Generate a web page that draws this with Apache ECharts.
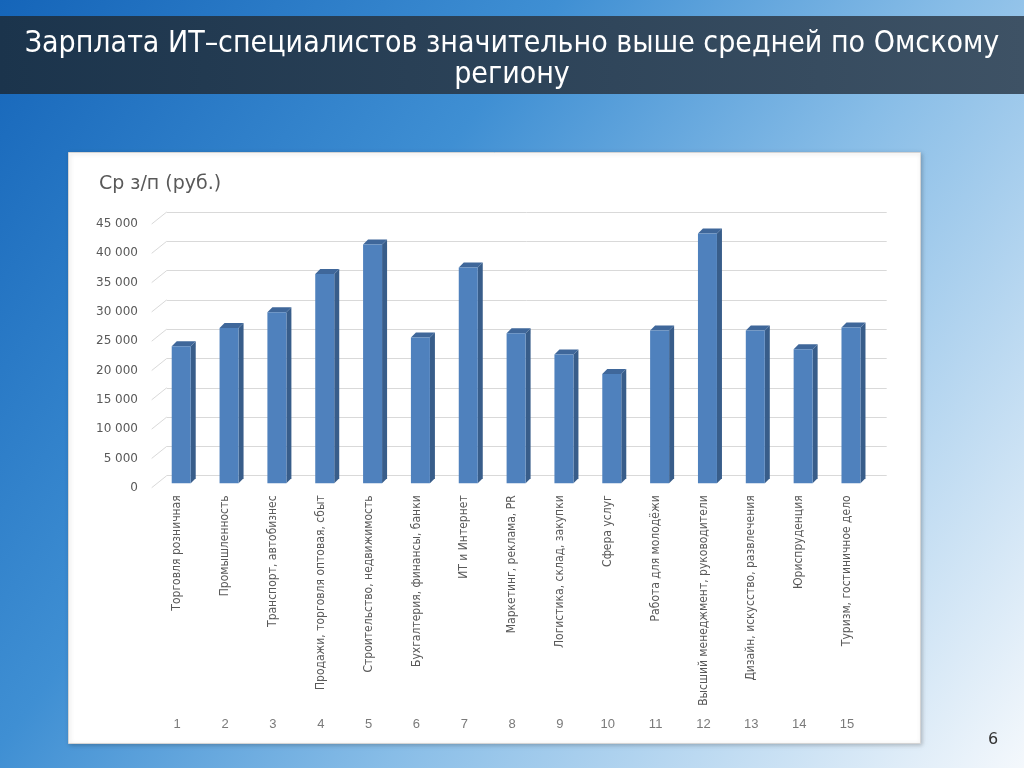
<!DOCTYPE html>
<html>
<head>
<meta charset="utf-8">
<script src="https://cdn.jsdelivr.net/npm/echarts@6/dist/echarts.min.js"></script>
<style>html,body{margin:0;padding:0;}#c{width:1024px;height:768px;}</style>
</head>
<body>
<div id="c"></div>
<script>
const titleLines = ['Зарплата ИТ–специалистов значительно выше средней по Омскому', 'региону'];
const yAxisTitle = 'Ср з/п (руб.)';
const categories = [
  'Торговля розничная',
  'Промышленность',
  'Транспорт, автобизнес',
  'Продажи, торговля оптовая, сбыт',
  'Строительство, недвижимость',
  'Бухгалтерия, финансы, банки',
  'ИТ и Интернет',
  'Маркетинг, реклама, PR',
  'Логистика, склад, закупки',
  'Сфера услуг',
  'Работа для молодёжи',
  'Высший менеджмент, руководители',
  'Дизайн, искусство, развлечения',
  'Юриспруденция',
  'Туризм, гостиничное дело'
];
const categoryNumbers = ['1','2','3','4','5','6','7','8','9','10','11','12','13','14','15'];
const salaries = [23300, 26400, 29100, 35600, 40600, 24800, 36700, 25500, 21900, 18600, 26000, 42500, 26000, 22800, 26500];
const yTicks = [0, 5000, 10000, 15000, 20000, 25000, 30000, 35000, 40000, 45000];
const pageNumber = '6';

const chart = echarts.init(document.getElementById('c'), null, {renderer: 'canvas'});

function fmt(v) {
  return String(v).replace(/\B(?=(\d{3})+(?!\d))/g, ' ');
}

const option = {
  animation: false,
  graphic: [
    {type: 'rect', z: -10, shape: {x: 0, y: 0, width: 1024, height: 768},
     style: {fill: new echarts.graphic.LinearGradient(0, 0, 1, 1, [
       {offset: 0, color: '#1565b9'},
       {offset: 0.35, color: '#3f8fd3'},
       {offset: 0.6, color: '#88bde7'},
       {offset: 1, color: '#f4f8fc'}])}},
    {type: 'rect', z: -9, shape: {x: 0, y: 16, width: 1024, height: 78},
     style: {fill: new echarts.graphic.LinearGradient(0, 0, 1, 0, [
       {offset: 0, color: '#1b344c'},
       {offset: 1, color: '#3e5265'}])}},
    {type: 'text', z: 5, left: 'center', top: 29,
     style: {text: titleLines.join('\n'), fill: '#ffffff', font: '30px "DejaVu Sans Condensed"', textAlign: 'center', lineHeight: 31}},
    {type: 'rect', z: -8, shape: {x: 68.5, y: 152.5, width: 852, height: 591},
     style: {fill: '#ffffff', stroke: '#d4d4d4', lineWidth: 1, shadowBlur: 4, shadowColor: 'rgba(0,0,0,0.2)', shadowOffsetX: 1, shadowOffsetY: 1}},
    {type: 'text', z: 5, left: 99, top: 175,
     style: {text: yAxisTitle, fill: '#595959', font: '19px "DejaVu Sans"'}},
    {type: 'text', z: 5, left: 988, top: 732,
     style: {text: pageNumber, fill: '#333333', font: '16px "DejaVu Sans"'}}
  ],
  grid: [
    {left: 157.3, right: 149.1, top: 218.7, bottom: 284.7},
    {left: 166.7, right: 137.3, top: 212, bottom: 292.3},
    {left: 152, right: 149, top: 224, bottom: 280},
    {left: 153.3, right: 153.1, top: 218.7, bottom: 284.7}
  ],
  xAxis: [
    {gridIndex: 0, type: 'category', data: categories, axisLine: {show: false}, axisTick: {show: false}, axisLabel: {show: false}},
    {gridIndex: 1, type: 'value', min: 0, max: 1, show: false},
    {gridIndex: 2, type: 'value', min: 0, max: 1, show: false},
    {gridIndex: 3, type: 'category', data: categories, position: 'bottom', axisLine: {show: false}, axisTick: {show: false},
     axisLabel: {rotate: 90, margin: 12, interval: 0, color: '#595959', fontFamily: 'DejaVu Sans Condensed', fontSize: 12}},
    {gridIndex: 3, type: 'category', data: categoryNumbers, position: 'bottom', offset: 233, axisLine: {show: false}, axisTick: {show: false},
     axisLabel: {margin: 2, interval: 0, color: '#7a7a7a', fontFamily: 'Liberation Sans', fontSize: 13}}
  ],
  yAxis: [
    {gridIndex: 0, type: 'value', min: 0, max: 45000, interval: 5000, show: false},
    {gridIndex: 1, type: 'value', min: 0, max: 45000, interval: 5000, axisLine: {show: false}, axisTick: {show: false}, axisLabel: {show: false},
     splitLine: {show: true, lineStyle: {color: '#d9d9d9', width: 1}}},
    {gridIndex: 2, type: 'value', min: 0, max: 45000, interval: 5000, axisLine: {show: false}, axisTick: {show: false}, splitLine: {show: false},
     axisLabel: {margin: 14, color: '#595959', fontFamily: 'DejaVu Sans', fontSize: 12, formatter: fmt}},
    {gridIndex: 3, type: 'value', min: 0, max: 45000, show: false}
  ],
  series: [
    {
      type: 'custom', xAxisIndex: 1, yAxisIndex: 1, z: 1,
      data: yTicks.map(v => [0, v]),
      renderItem: function (params, api) {
        const p = api.coord([0, api.value(1)]);
        return {type: 'line', shape: {x1: p[0] - 15, y1: p[1] + 12, x2: p[0], y2: p[1]},
                style: {stroke: '#d9d9d9', lineWidth: 1}};
      }
    },
    {
      type: 'custom', xAxisIndex: 0, yAxisIndex: 0, z: 3,
      data: salaries.map((v, i) => [i, v]),
      renderItem: function (params, api) {
        const top = api.coord([api.value(0), api.value(1)]);
        const base = api.coord([api.value(0), 0]);
        const hw = 9.5, d = 5, dy = 5;
        const xl = top[0] - hw, xr = top[0] + hw;
        const yt = top[1], yb = base[1];
        return {type: 'group', children: [
          {type: 'polygon', shape: {points: [[xr, yt], [xr + d, yt - dy], [xr + d, yb - dy], [xr, yb]]},
           style: {fill: '#385d8a'}},
          {type: 'polygon', shape: {points: [[xl, yt], [xl + d, yt - dy], [xr + d, yt - dy], [xr, yt]]},
           style: {fill: '#3f679a'}},
          {type: 'rect', shape: {x: xl, y: yt, width: hw * 2, height: yb - yt},
           style: {fill: '#4f81bd'}}
        ]};
      }
    }
  ]
};
chart.setOption(option);
</script>
</body>
</html>
